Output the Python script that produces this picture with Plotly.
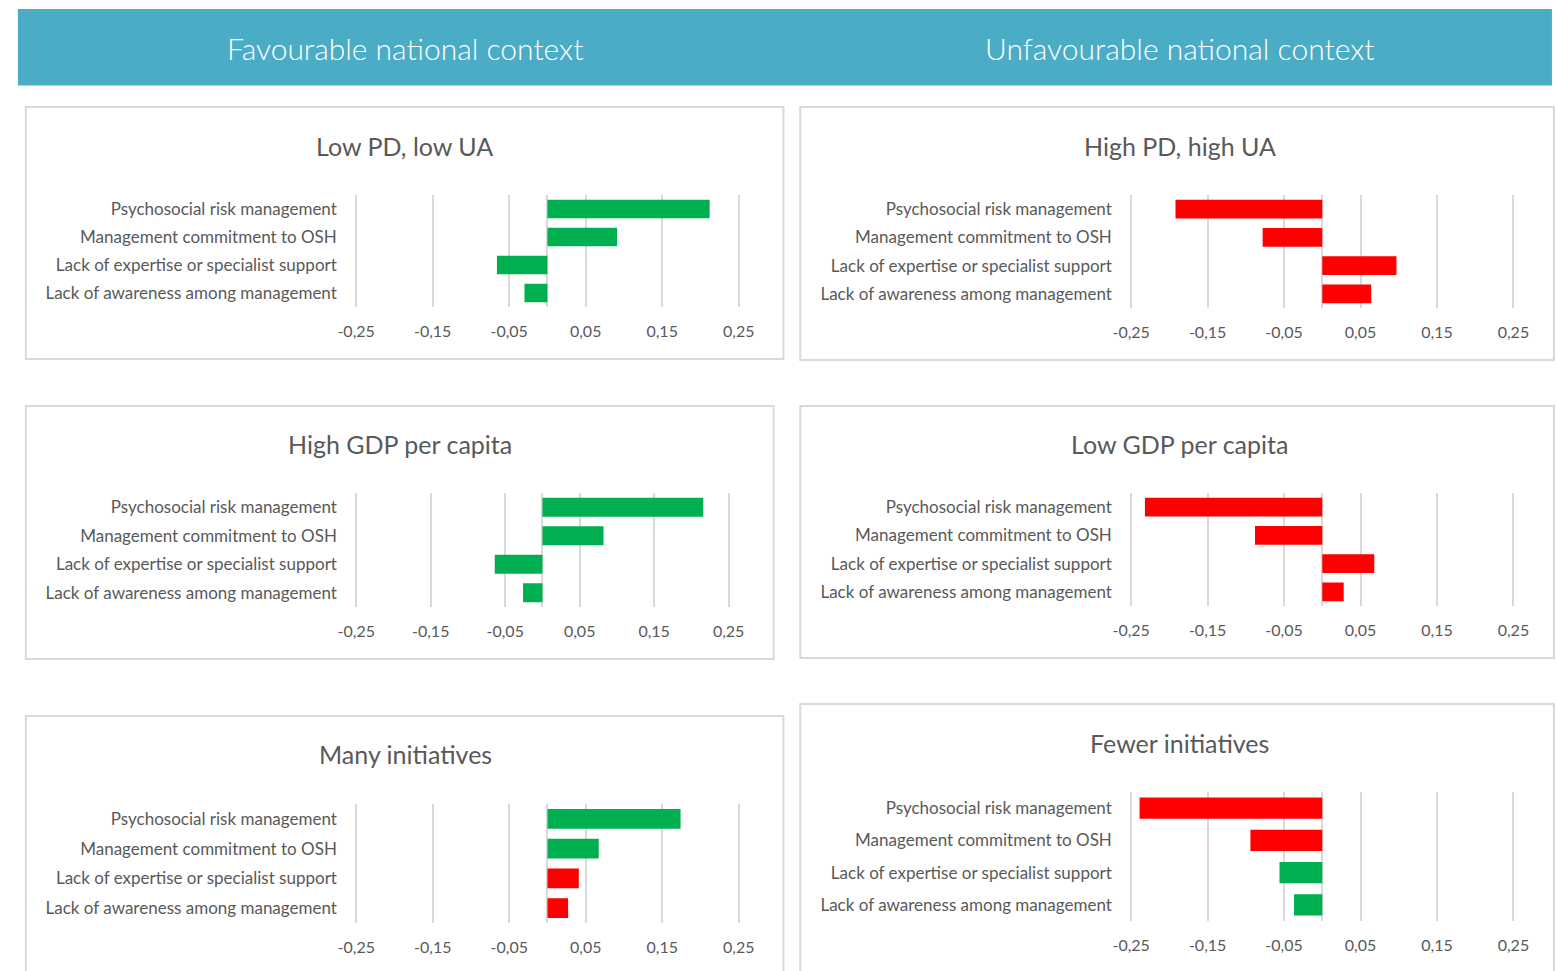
import plotly.graph_objects as go

W, H = 1556, 971

categories = ["Psychosocial risk management", "Management commitment to OSH",
              "Lack of expertise or specialist support", "Lack of awareness among management"]

tick_vals = [-0.25, -0.15, -0.05, 0.05, 0.15, 0.25]
tick_text = ["-0,25", "-0,15", "-0,05", "0,05", "0,15", "0,25"]

header_titles = ["Favourable national context", "Unfavourable national context"]
panel_titles = ["Low PD, low UA", "High PD, high UA", "High GDP per capita",
                "Low GDP per capita", "Many initiatives", "Fewer initiatives"]

low_pd_low_ua = [0.212, 0.091, -0.066, -0.030]
high_pd_high_ua = [-0.192, -0.078, 0.097, 0.064]
high_gdp = [0.216, 0.082, -0.064, -0.026]
low_gdp = [-0.232, -0.088, 0.068, 0.028]
many_initiatives = [0.174, 0.067, 0.041, 0.027]
fewer_initiatives = [-0.239, -0.094, -0.056, -0.037]

GREEN, RED = "#00B050", "#FF0000"
low_pd_low_ua_colors = [GREEN, GREEN, GREEN, GREEN]
high_pd_high_ua_colors = [RED, RED, RED, RED]
high_gdp_colors = [GREEN, GREEN, GREEN, GREEN]
low_gdp_colors = [RED, RED, RED, RED]
many_initiatives_colors = [GREEN, GREEN, RED, RED]
fewer_initiatives_colors = [RED, RED, GREEN, GREEN]

series = [low_pd_low_ua, high_pd_high_ua, high_gdp, low_gdp, many_initiatives, fewer_initiatives]
colors = [low_pd_low_ua_colors, high_pd_high_ua_colors, high_gdp_colors,
          low_gdp_colors, many_initiatives_colors, fewer_initiatives_colors]

# layout in pixels: box(x0,y0,x1,y1), gridline extent (x at -0.25, x at 0.25, y top, y bottom), title(x,y)
panels = [
    dict(box=(15, 107, 782, 359), plot=(349.4, 736.7, 195, 307), title=(398, 146)),
    dict(box=(799, 107, 1562, 360), plot=(1134, 1521, 195, 308), title=(1183, 146)),
    dict(box=(15, 406, 772, 659), plot=(349.5, 726.5, 493, 607), title=(394, 444)),
    dict(box=(799, 406, 1562, 658), plot=(1134, 1521, 493, 606), title=(1183, 444)),
    dict(box=(15, 716, 782, 980), plot=(349.5, 736.7, 804, 923), title=(399, 754)),
    dict(box=(799, 704, 1562, 980), plot=(1134, 1521, 792, 921), title=(1183, 743)),
]

def px(x):
    return x / W

def py(y):
    return 1 - y / H

FONT = "Lato"
GREY = "#595959"
GRID = "#D9D9D9"
EDGE = 0.25
PAD = 0.26  # axis range half-width so the edge gridlines are drawn

fig = go.Figure()
shapes = []
annotations = []

shapes.append(dict(type="rect", xref="paper", yref="paper", x0=px(7), x1=px(1560),
                   y0=py(85.5), y1=py(9), fillcolor="#4BACC6", line=dict(width=0), layer="below"))
for txt, hx in zip(header_titles, [399, 1183]):
    annotations.append(dict(text=txt, x=px(hx), y=py(48), xref="paper", yref="paper",
                            showarrow=False, font=dict(family=FONT, size=30, color="white", weight=300),
                            xanchor="center", yanchor="middle"))

for i, (p, vals, cols, title) in enumerate(zip(panels, series, colors, panel_titles)):
    n = i + 1
    xa = "x" if n == 1 else f"x{n}"
    ya = "y" if n == 1 else f"y{n}"
    bx0, by0, bx1, by1 = p["box"]
    shapes.append(dict(type="rect", xref="paper", yref="paper", x0=px(bx0), x1=px(bx1),
                       y0=py(by1), y1=py(by0), fillcolor="white",
                       line=dict(color=GRID, width=2), layer="below"))
    tx, ty = p["title"]
    annotations.append(dict(text=title, x=px(tx), y=py(ty), xref="paper", yref="paper",
                            showarrow=False, font=dict(family=FONT, size=25, color=GREY),
                            xanchor="center", yanchor="middle"))
    fig.add_trace(go.Bar(x=vals, y=categories, orientation="h", marker=dict(color=cols, line=dict(width=0)),
                         xaxis=xa, yaxis=ya, showlegend=False, hoverinfo="x+y"))
    gx0, gx1, y0, y1 = p["plot"]
    cx = (gx0 + gx1) / 2
    half = (gx1 - gx0) / 2 * PAD / EDGE
    ext = half - (gx1 - gx0) / 2
    x0, x1 = cx - half, cx + half
    xkey = "xaxis" if n == 1 else f"xaxis{n}"
    ykey = "yaxis" if n == 1 else f"yaxis{n}"
    fig.update_layout(**{
        xkey: dict(domain=[px(x0), px(x1)], anchor=ya, range=[-PAD, PAD],
                   tickvals=tick_vals, ticktext=tick_text, showgrid=True, gridcolor=GRID,
                   gridwidth=1.5, zeroline=True, zerolinecolor=GRID, zerolinewidth=1.5,
                   showline=False, ticks="outside", ticklen=10,
                   tickcolor="rgba(0,0,0,0)", tickfont=dict(family=FONT, size=16, color=GREY),
                   fixedrange=True),
        ykey: dict(domain=[py(y1), py(y0)], anchor=xa, categoryorder="array",
                   categoryarray=categories, autorange="reversed", showgrid=False,
                   zeroline=False, showline=False, ticks="outside", ticklen=max(15 - ext, 1),
                   tickcolor="rgba(0,0,0,0)", tickfont=dict(family=FONT, size=17, color=GREY),
                   fixedrange=True),
    })

fig.update_layout(width=W, height=H, margin=dict(l=0, r=0, t=0, b=0),
                  paper_bgcolor="white", plot_bgcolor="rgba(0,0,0,0)",
                  bargap=0.34, shapes=shapes, annotations=annotations,
                  font=dict(family=FONT, color=GREY))

fig.write_html("out.html", config={"displayModeBar": False},
               post_script="document.body.style.margin='0';document.body.style.overflow='hidden';")
